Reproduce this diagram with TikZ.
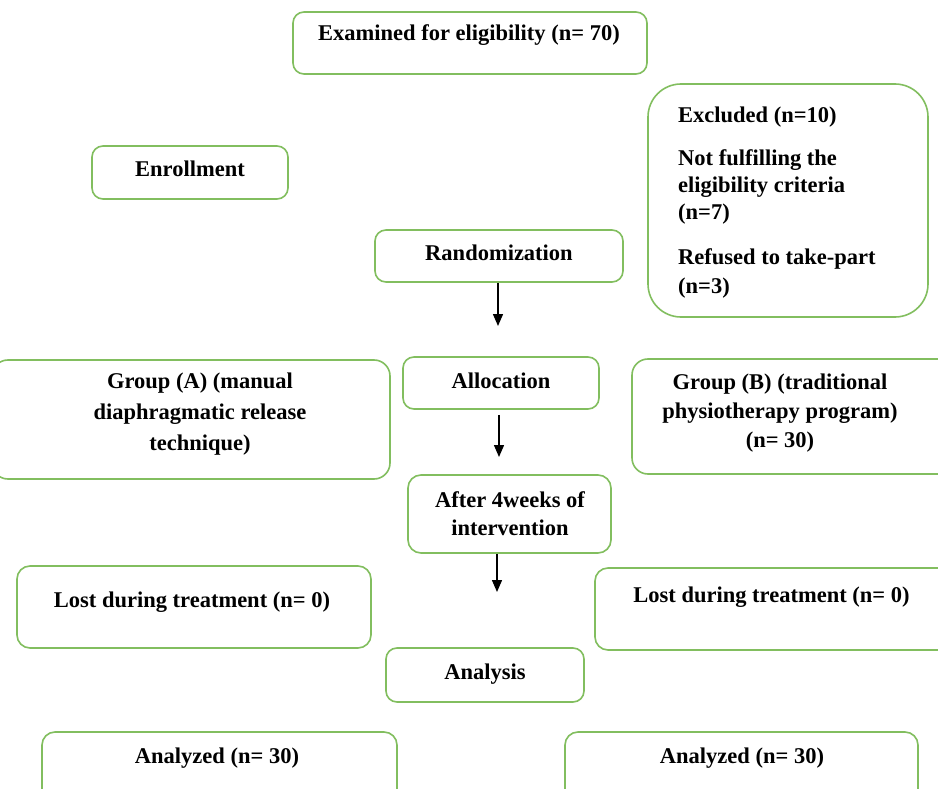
\documentclass[tikz,border=0pt]{standalone}
\usepackage{fontspec}
\setmainfont{Liberation Serif}
\usetikzlibrary{arrows.meta}
\definecolor{boxgreen}{RGB}{130,190,95}
\tikzset{
  box/.style={draw=boxgreen, line width=1.6pt, rounded corners=11pt, inner sep=0pt, fill=white},
  txt/.style={font=\fontsize{22.5}{28}\selectfont\bfseries, inner sep=0pt, anchor=base, text=black},
  txtl/.style={txt, anchor=base west},
  arr/.style={-{Triangle[length=12pt,width=10pt]}, line width=1.4pt, black}
}
\begin{document}
\begin{tikzpicture}[x=1pt,y=-1pt]
\useasboundingbox (0,0) rectangle (938,789);
\fill[white] (0,0) rectangle (938,789);
\clip (0,0) rectangle (938,789);
% boxes
\node[box, minimum width=354pt, minimum height=62pt] (exam) at (470,43) {};
\node[box, rounded corners=33pt, minimum width=280pt, minimum height=233pt] (excl) at (788,200.5) {};
\node[box, minimum width=196pt, minimum height=53pt] (enrol) at (190,172.5) {};
\node[box, minimum width=248pt, minimum height=52pt] (rand) at (499,256) {};
\node[box, rounded corners=16pt, minimum width=398pt, minimum height=119pt] (grpA) at (191,419.5) {};
\node[box, minimum width=196pt, minimum height=52pt] (alloc) at (501,383) {};
\node[box, rounded corners=16pt, minimum width=328pt, minimum height=115pt] (grpB) at (796,416.5) {};
\node[box, rounded corners=13pt, minimum width=203pt, minimum height=78pt] (after) at (509.5,514) {};
\node[box, rounded corners=13pt, minimum width=354pt, minimum height=82pt] (lostA) at (194,607) {};
\node[box, rounded corners=13pt, minimum width=365pt, minimum height=82pt] (lostB) at (777.5,609) {};
\node[box, minimum width=198pt, minimum height=54pt] (anal) at (485,675) {};
\node[box, rounded corners=13pt, minimum width=355pt, minimum height=78pt] (anA) at (219.5,771) {};
\node[box, rounded corners=13pt, minimum width=353pt, minimum height=78pt] (anB) at (741.5,771) {};
% texts
\node[txt] (t-exam) at (469,41) {Examined for eligibility (n= 70)};
\node[txtl] (t-ex1) at (678,123) {Excluded (n=10)};
\node[txtl] (t-ex2) at (678,166) {Not fulfilling the};
\node[txtl] (t-ex3) at (678,193) {eligibility criteria};
\node[txtl] (t-ex4) at (678,220) {(n=7)};
\node[txtl] (t-ex5) at (678,265) {Refused to take-part};
\node[txtl] (t-ex6) at (678,293) {(n=3)};
\node[txt] (t-enrol) at (190,177) {Enrollment};
\node[txt] (t-rand) at (499,261) {Randomization};
\node[txt] (t-gA1) at (200,388) {Group (A) (manual};
\node[txt] (t-gA2) at (200,419) {diaphragmatic release};
\node[txt] (t-gA3) at (200,450) {technique)};
\node[txt] (t-alloc) at (501,388) {Allocation};
\node[txt] (t-gB1) at (780,389) {Group (B) (traditional};
\node[txt] (t-gB2) at (780,418) {physiotherapy program)};
\node[txt] (t-gB3) at (780,447) {(n= 30)};
\node[txt] (t-af1) at (510,507) {After 4weeks of};
\node[txt] (t-af2) at (510,535) {intervention};
\node[txt] (t-lA) at (192,607) {Lost during treatment (n= 0)};
\node[txt] (t-lB) at (771.5,602) {Lost during treatment (n= 0)};
\node[txt] (t-anal) at (485,679) {Analysis};
\node[txt] (t-anA) at (217,763) {Analyzed (n= 30)};
\node[txt] (t-anB) at (742,763) {Analyzed (n= 30)};
% arrows
\coordinate (a1) at (498,326);
\coordinate (a2) at (499,457);
\coordinate (a3) at (497,592);
\draw[arr] (rand.south -| a1) -- (a1);
\draw[arr] ([yshift=-5pt]alloc.south -| a2) -- (a2);
\draw[arr] (after.south -| a3) -- (a3);
\end{tikzpicture}
\end{document}
